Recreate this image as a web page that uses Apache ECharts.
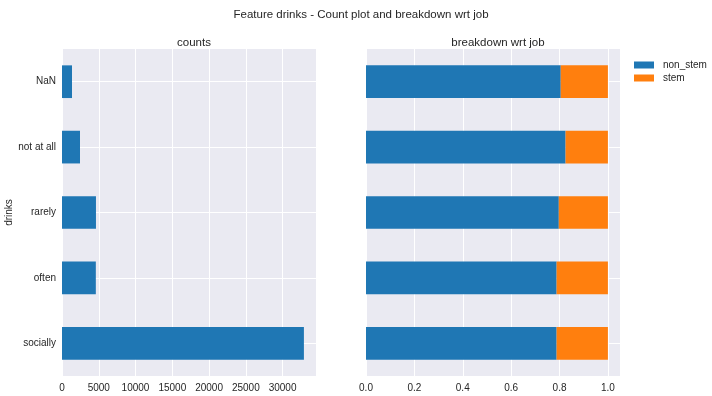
<!DOCTYPE html>
<html>
<head>
<meta charset="utf-8">
<script src="https://cdn.jsdelivr.net/npm/echarts@6/dist/echarts.min.js"></script>
<style>
  html, body { margin: 0; padding: 0; background: #fff; }
  #chart { width: 712px; height: 396px; }
</style>
</head>
<body>
<div id="chart"></div>
<script>
// categories top -> bottom
var categories = ["NaN", "not at all", "rarely", "often", "socially"];
var counts = [1360, 2450, 4620, 4600, 32900];
var nonStem = [0.805, 0.825, 0.797, 0.788, 0.788];
var stem = nonStem.map(function (v) { return +(1 - v).toFixed(3); });
var countTicks = 5000;
var shareTicks = 0.2;

var blue = "#1f77b4";
var orange = "#ff7f0e";
var bg = "#EAEAF2";
var txt = "#262626";
var font = "Liberation Sans";

var chart = echarts.init(document.getElementById("chart"));

var catAxis = function (idx, show) {
  return {
    type: "category",
    gridIndex: idx,
    data: categories,
    inverse: true,
    axisLine: { show: false },
    axisTick: { show: false, alignWithLabel: true },
    axisLabel: { show: show, color: txt, fontSize: 10, fontFamily: font, margin: 6 },
    splitLine: { show: true, alignWithLabel: true, lineStyle: { color: "#fff", width: 1 } },
    name: show ? "drinks" : "",
    nameLocation: "middle",
    nameRotate: 90,
    nameGap: 47,
    nameTextStyle: { color: txt, fontSize: 10, fontFamily: font }
  };
};

var option = {
  animation: false,
  backgroundColor: "#fff",
  title: [
    { text: "Feature drinks - Count plot and breakdown wrt job", left: 356, top: 4, textAlign: "center",
      textStyle: { fontSize: 11.5, fontWeight: "normal", color: txt, fontFamily: font } },
    { text: "counts", left: 189, top: 32, textAlign: "center",
      textStyle: { fontSize: 11.5, fontWeight: "normal", color: txt, fontFamily: font } },
    { text: "breakdown wrt job", left: 493, top: 32, textAlign: "center",
      textStyle: { fontSize: 11.5, fontWeight: "normal", color: txt, fontFamily: font } }
  ],
  legend: {
    data: ["non_stem", "stem"],
    orient: "vertical",
    left: 629,
    top: 55,
    itemWidth: 20,
    itemHeight: 7,
    itemGap: 3,
    icon: "rect",
    textStyle: { color: txt, fontSize: 10, fontFamily: font, padding: [0, 0, 0, 4] }
  },
  grid: [
    { left: 62, right: 396, top: 49, bottom: 20, backgroundColor: bg, show: true, borderWidth: 0 },
    { left: 366, right: 92, top: 49, bottom: 20, backgroundColor: bg, show: true, borderWidth: 0 }
  ],
  xAxis: [
    {
      type: "value", gridIndex: 0, min: 0, max: 34545, interval: countTicks,
      axisLine: { show: false }, axisTick: { show: false },
      axisLabel: { color: txt, fontSize: 10, fontFamily: font, margin: 7, showMaxLabel: false,
        formatter: function (v) { return String(v); } },
      splitLine: { lineStyle: { color: "#fff", width: 1 } }
    },
    {
      type: "value", gridIndex: 1, min: 0, max: 1.05, interval: shareTicks,
      axisLine: { show: false }, axisTick: { show: false },
      axisLabel: { color: txt, fontSize: 10, fontFamily: font, margin: 7, showMaxLabel: false,
        formatter: function (v) { return v.toFixed(1); } },
      splitLine: { lineStyle: { color: "#fff", width: 1 } }
    }
  ],
  yAxis: [catAxis(0, true), catAxis(1, false)],
  series: [
    { name: "counts", type: "bar", xAxisIndex: 0, yAxisIndex: 0, data: counts,
      barWidth: "50%", itemStyle: { color: blue } },
    { name: "non_stem", type: "bar", stack: "job", xAxisIndex: 1, yAxisIndex: 1, data: nonStem,
      barWidth: "50%", itemStyle: { color: blue } },
    { name: "stem", type: "bar", stack: "job", xAxisIndex: 1, yAxisIndex: 1, data: stem,
      barWidth: "50%", itemStyle: { color: orange } }
  ]
};

chart.setOption(option);
</script>
</body>
</html>
